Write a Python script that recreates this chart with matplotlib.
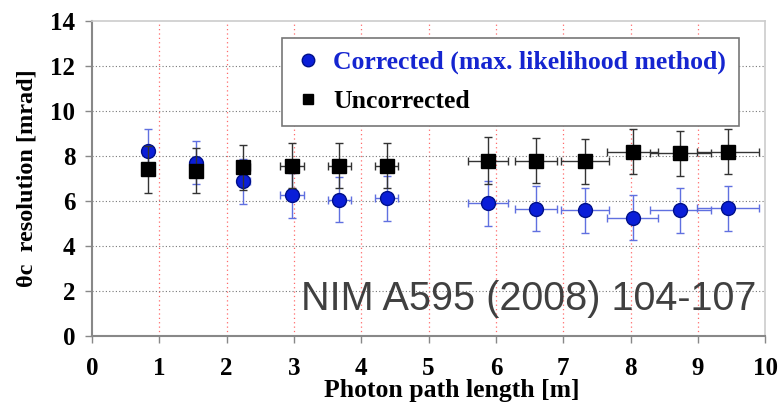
import numpy as np
import matplotlib.pyplot as plt
from matplotlib.lines import Line2D

# photon path length [m]
path_len = [0.83, 1.54, 2.25, 2.97, 3.67, 4.38, 5.88, 6.60, 7.32, 8.03, 8.74, 9.45]
path_err = [0.0, 0.0, 0.10, 0.18, 0.17, 0.17, 0.30, 0.31, 0.36, 0.38, 0.45, 0.46]

# theta_c resolution [mrad]
corrected = [8.22, 7.70, 6.89, 6.25, 6.06, 6.12, 5.90, 5.66, 5.60, 5.27, 5.60, 5.68]
corrected_err = [1.0, 0.95, 1.0, 1.0, 1.0, 1.0, 1.0, 1.0, 1.0, 1.0, 1.0, 1.0]
uncorrected = [7.41, 7.35, 7.50, 7.57, 7.57, 7.57, 7.79, 7.80, 7.76, 8.19, 8.12, 8.19]
uncorrected_err = [1.05, 1.0, 1.0, 1.0, 1.0, 1.0, 1.04, 1.0, 1.0, 1.0, 1.0, 1.0]

xticks = np.arange(0, 11, 1)
yticks = np.arange(0, 15, 2)

plt.rcParams['font.family'] = ['Liberation Serif', 'DejaVu Serif']

fig = plt.figure(figsize=(7.8, 4.08), dpi=100)
ax = fig.add_axes([0.118, 0.176, 0.863, 0.7725])

# grid: red dotted verticals, gray dotted horizontals
for xv in xticks[1:-1]:
    ax.axvline(xv, color='#ff6a6a', linestyle=(0, (1, 2.5)), linewidth=0.9, zorder=0)
for yv in yticks[1:-1]:
    ax.axhline(yv, color='#777777', linestyle=(0, (1, 2)), linewidth=0.8, zorder=0)

ax.errorbar(path_len, corrected, yerr=corrected_err, xerr=path_err, fmt='o',
            color='#0a1ed8', markeredgecolor='#00108a', markersize=10,
            ecolor='#6070e0', elinewidth=1, capsize=3, zorder=3)
ax.errorbar(path_len, uncorrected, yerr=uncorrected_err, xerr=path_err, fmt='s',
            color='black', markersize=10, ecolor='#333333', elinewidth=1,
            capsize=3, zorder=4)

ax.set_xlim(0, 10)
ax.set_ylim(0, 14)
ax.set_xticks(xticks)
ax.set_yticks(yticks)
ax.tick_params(labelsize=18, length=5, width=1, color='#888888')
ax.tick_params(axis='x', pad=10)
ax.tick_params(axis='y', pad=7)
for lab in ax.get_xticklabels() + ax.get_yticklabels():
    lab.set_fontweight('bold')

for s in ['left', 'bottom']:
    ax.spines[s].set_color('#888888')
    ax.spines[s].set_linewidth(1.5)
for s in ['top', 'right']:
    ax.spines[s].set_color('#cccccc')
    ax.spines[s].set_linewidth(1.2)

ax.set_xlabel('Photon path length [m]', fontsize=18.5, fontweight='bold')
ax.xaxis.set_label_coords(0.535, -0.135)
ax.set_ylabel('θc  resolution [mrad]', fontsize=17.5, fontweight='bold', labelpad=9)

handles = [
    Line2D([], [], linestyle='none', marker='o', markersize=9,
           color='#0a1ed8', markeredgecolor='#00108a'),
    Line2D([], [], linestyle='none', marker='s', markersize=7.5, color='black'),
]
labels = ['Corrected (max. likelihood method)', 'Uncorrected']
leg = ax.legend(handles, labels, loc='upper right', bbox_to_anchor=(0.9614, 0.946),
                borderaxespad=0, prop={'weight': 'bold', 'size': 18.5},
                frameon=True, fancybox=False, framealpha=1,
                handletextpad=0.5, borderpad=0.5, labelspacing=0.6, handlelength=1.0)
leg.get_frame().set_edgecolor('#777777')
leg.get_frame().set_linewidth(1.2)
leg.get_texts()[0].set_color('#1525d0')

ax.text(0.987, 0.083, 'NIM A595 (2008) 104-107', transform=ax.transAxes,
        ha='right', va='baseline', fontsize=28.5, color='#404040',
        family=['Liberation Sans', 'DejaVu Sans'])

fig.savefig('out.png', dpi=100)
